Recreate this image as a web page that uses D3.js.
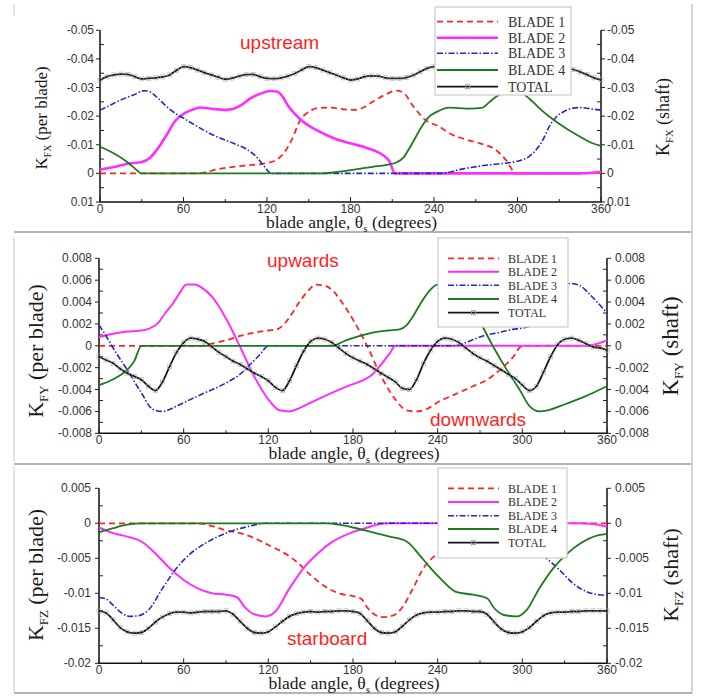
<!DOCTYPE html>
<html><head><meta charset="utf-8">
<script src="https://cdn.jsdelivr.net/npm/d3@7"></script>
<style>body{margin:0;background:#fff}svg{display:block}</style>
</head><body><svg id="fig" width="702" height="698"></svg>
<script>
// ---- shared axis values ----
const angleTicks = [0, 60, 120, 180, 240, 300, 360];
const angleMinor = [30, 90, 150, 210, 270, 330];
const seriesNames = ["BLADE 1", "BLADE 2", "BLADE 3", "BLADE 4", "TOTAL"];
const totalAngles = d3.range(0, 361, 5);

// ---- K_FX (axial force) ----
const fxTicks = [-0.05, -0.04, -0.03, -0.02, -0.01, 0, 0.01];
const fxMinor = [-0.045, -0.035, -0.025, -0.015, -0.005, 0.005];
const fxBlade1 = [[0,0],[70,0],[85,-0.0015],[96,-0.0023],[110,-0.003],[120,-0.0036],[127,-0.0048],[132,-0.007],[138,-0.012],[144,-0.0187],[150,-0.0215],[156,-0.0228],[165,-0.023],[175,-0.0224],[184,-0.0222],[190,-0.0232],[196,-0.025],[205,-0.0275],[213,-0.0289],[218,-0.0282],[225,-0.0235],[234,-0.0186],[244,-0.0163],[251,-0.014],[262,-0.012],[273,-0.0105],[285,-0.008],[292,-0.0045],[299,0],[350,0],[355,-0.0003],[360,0]];
const fxBlade2 = [[0,-0.0013],[10,-0.0022],[20,-0.0034],[30,-0.004],[36,-0.0055],[42,-0.009],[48,-0.0135],[54,-0.0183],[60,-0.0208],[66,-0.0222],[72,-0.023],[80,-0.0226],[90,-0.0222],[96,-0.0226],[102,-0.024],[108,-0.0262],[115,-0.0278],[122,-0.0288],[127,-0.0286],[131,-0.027],[135,-0.0237],[140,-0.0208],[146,-0.018],[156,-0.015],[168,-0.0123],[180,-0.0105],[190,-0.0092],[197,-0.008],[203,-0.0065],[208,-0.0042],[212,0],[345,0],[360,-0.0005]];
const fxBlade3 = [[0,-0.0221],[6,-0.0235],[12,-0.025],[18,-0.0263],[24,-0.0274],[32,-0.0289],[36,-0.0285],[40,-0.027],[48,-0.0233],[54,-0.021],[60,-0.0193],[72,-0.0158],[84,-0.0128],[96,-0.0105],[106,-0.0082],[112,-0.006],[118,-0.0025],[123,0],[245,0],[260,-0.0015],[280,-0.003],[295,-0.0038],[302,-0.0045],[308,-0.0058],[313,-0.008],[318,-0.0115],[323,-0.0165],[328,-0.0198],[334,-0.0218],[340,-0.0228],[346,-0.023],[352,-0.0226],[360,-0.0221]];
const fxBlade4 = [[0,-0.0093],[6,-0.008],[12,-0.0064],[18,-0.0045],[24,-0.0022],[30,0],[160,0],[172,-0.0006],[185,-0.0015],[196,-0.0023],[206,-0.003],[213,-0.0038],[218,-0.0055],[222,-0.0085],[227,-0.0128],[232,-0.017],[236,-0.0196],[242,-0.0215],[251,-0.023],[258,-0.0228],[266,-0.0226],[275,-0.023],[280,-0.025],[286,-0.0272],[292,-0.0285],[299,-0.029],[304,-0.0278],[311,-0.025],[317,-0.0222],[323,-0.0198],[335,-0.0157],[345,-0.0128],[353,-0.0107],[360,-0.0096]];
const fxTotal = [
  -0.0326,-0.0338,-0.0344,-0.0347,-0.0346,-0.0338,-0.0330,-0.0332,-0.0334,-0.0337,-0.0344,-0.0360,-0.0373,-0.0370,-0.0361,-0.0352,-0.0344,-0.0336,
  -0.0329,-0.0333,-0.0340,-0.0345,-0.0346,-0.0338,-0.0332,-0.0331,-0.0334,-0.0340,-0.0349,-0.0362,-0.0373,-0.0370,-0.0361,-0.0352,-0.0343,-0.0334,
  -0.0326,-0.0330,-0.0338,-0.0341,-0.0340,-0.0334,-0.0332,-0.0332,-0.0335,-0.0343,-0.0355,-0.0367,-0.0373,-0.0370,-0.0362,-0.0353,-0.0344,-0.0336,
  -0.0328,-0.0333,-0.0341,-0.0346,-0.0345,-0.0337,-0.0331,-0.0332,-0.0335,-0.0342,-0.0352,-0.0365,-0.0372,-0.0369,-0.0363,-0.0355,-0.0345,-0.0334,
  -0.0327];

// ---- K_FY (vertical force) ----
const fyTicks = [0.008, 0.006, 0.004, 0.002, 0, -0.002, -0.004, -0.006, -0.008];
const fyMinor = [0.007, 0.005, 0.003, 0.001, -0.001, -0.003, -0.005, -0.007];
const fyBlade1 = [[0,0],[72,0],[80,0.0002],[90,0.0005],[100,0.0009],[110,0.0012],[120,0.0014],[126,0.0015],[132,0.0021],[137,0.003],[142,0.004],[148,0.005],[154,0.0056],[160,0.0055],[166,0.005],[172,0.004],[180,0.0024],[190,0],[200,-0.0028],[210,-0.0049],[218,-0.0059],[225,-0.006],[232,-0.0058],[241,-0.0051],[253,-0.0044],[265,-0.0037],[275,-0.0031],[284,-0.0022],[293,-0.0011],[300,0],[360,0]];
const fyBlade2 = [[0,0.0008],[10,0.0011],[20,0.0013],[30,0.0014],[36,0.0016],[42,0.0021],[47,0.003],[52,0.0038],[57,0.0048],[62,0.0056],[68,0.0056],[74,0.0052],[80,0.0045],[90,0.0025],[100,-0.0001],[110,-0.0028],[120,-0.0049],[128,-0.0059],[135,-0.006],[142,-0.0057],[150,-0.0052],[165,-0.0043],[178,-0.0036],[188,-0.0031],[194,-0.0026],[200,-0.0017],[206,-0.0007],[210,0],[345,0],[360,0.0005]];
const fyBlade3 = [[0,0.0019],[5,0.0009],[10,-0.0002],[20,-0.0022],[30,-0.0043],[38,-0.0058],[45,-0.006],[52,-0.0057],[60,-0.0052],[75,-0.0043],[90,-0.0034],[100,-0.0026],[108,-0.0016],[114,-0.0008],[120,0],[252,0],[262,0.0004],[272,0.0009],[283,0.0012],[293,0.0015],[303,0.0017],[310,0.002],[316,0.003],[322,0.0042],[328,0.0052],[334,0.0057],[341,0.0055],[347,0.0048],[353,0.004],[360,0.003]];
const fyBlade4 = [[0,-0.0036],[8,-0.0032],[15,-0.0027],[20,-0.0022],[25,-0.0014],[30,0],[165,0],[175,0.0005],[185,0.0009],[194,0.0012],[205,0.0014],[213,0.0015],[218,0.0019],[223,0.0028],[228,0.0039],[234,0.005],[240,0.0056],[246,0.0056],[252,0.0052],[260,0.0044],[270,0.0022],[279,0],[289,-0.0022],[298,-0.004],[305,-0.0055],[312,-0.006],[318,-0.0059],[331,-0.0053],[345,-0.0046],[355,-0.004],[360,-0.0037]];
const fyTotal = [
  -0.0010,-0.0013,-0.0016,-0.0021,-0.0025,-0.0028,-0.0031,-0.0037,-0.0041,-0.0033,-0.0019,-0.0006,0.0003,0.0007,0.0006,0.0004,-0.0001,-0.0006,
  -0.0010,-0.0014,-0.0017,-0.0021,-0.0025,-0.0028,-0.0032,-0.0038,-0.0041,-0.0032,-0.0018,-0.0005,0.0004,0.0007,0.0006,0.0003,-0.0002,-0.0007,
  -0.0011,-0.0014,-0.0017,-0.0021,-0.0025,-0.0029,-0.0033,-0.0039,-0.0040,-0.0031,-0.0016,-0.0004,0.0004,0.0007,0.0006,0.0003,-0.0002,-0.0007,
  -0.0011,-0.0014,-0.0018,-0.0022,-0.0026,-0.0030,-0.0036,-0.0041,-0.0037,-0.0024,-0.0010,0.0001,0.0006,0.0007,0.0005,0.0002,-0.0001,-0.0002,
  -0.0004];

// ---- K_FZ (lateral force) ----
const fzTicks = [0.005, 0, -0.005, -0.01, -0.015, -0.02];
const fzMinor = [0.0025, -0.0025, -0.0075, -0.0125, -0.0175];
const fzBlade1 = [[0,0],[70,0],[80,-0.0004],[90,-0.001],[100,-0.0014],[110,-0.0021],[120,-0.0031],[130,-0.0041],[140,-0.0055],[150,-0.0074],[160,-0.009],[170,-0.01],[180,-0.0104],[186,-0.0108],[190,-0.012],[195,-0.013],[201,-0.0134],[208,-0.0132],[215,-0.012],[222,-0.0095],[230,-0.0064],[240,-0.0043],[250,-0.0029],[262,-0.0016],[275,-0.0007],[288,-0.0001],[295,0],[350,0],[360,0]];
const fzBlade2 = [[0,-0.0006],[10,-0.0014],[20,-0.0019],[30,-0.0026],[40,-0.0043],[50,-0.0064],[60,-0.0081],[70,-0.0093],[80,-0.01],[90,-0.0102],[98,-0.0106],[103,-0.0119],[110,-0.013],[118,-0.0133],[125,-0.0126],[135,-0.0093],[145,-0.0064],[155,-0.0043],[165,-0.0027],[178,-0.0014],[187,-0.0008],[197,-0.0002],[206,0],[340,0],[350,-0.0001],[360,-0.0005]];
const fzBlade3 = [[0,-0.0106],[5,-0.0108],[10,-0.0117],[16,-0.0128],[22,-0.0133],[28,-0.0132],[35,-0.0124],[45,-0.0093],[55,-0.0064],[65,-0.0043],[75,-0.0029],[90,-0.0014],[105,-0.0005],[118,0],[250,0],[262,-0.0002],[272,-0.0006],[285,-0.0014],[295,-0.0021],[305,-0.0031],[313,-0.0043],[320,-0.0055],[326,-0.0066],[336,-0.0086],[346,-0.0098],[354,-0.0102],[360,-0.0103]];
const fzBlade4 = [[0,-0.0013],[10,-0.0007],[20,-0.0002],[30,0],[162,0],[170,-0.0002],[180,-0.0006],[194,-0.0013],[206,-0.0019],[218,-0.0026],[227,-0.0045],[235,-0.0064],[242,-0.0079],[253,-0.0098],[265,-0.0102],[275,-0.0107],[280,-0.0121],[287,-0.0131],[296,-0.0133],[303,-0.0124],[312,-0.0093],[322,-0.0064],[332,-0.0043],[341,-0.0029],[354,-0.0017],[360,-0.0015]];
const fzTotal = [
  -0.0125,-0.0128,-0.0138,-0.0149,-0.0155,-0.0157,-0.0156,-0.0150,-0.0141,-0.0134,-0.0129,-0.0127,-0.0127,-0.0128,-0.0127,-0.0126,-0.0126,-0.0126,
  -0.0125,-0.0130,-0.0140,-0.0150,-0.0156,-0.0157,-0.0155,-0.0148,-0.0140,-0.0133,-0.0129,-0.0127,-0.0126,-0.0127,-0.0126,-0.0126,-0.0125,-0.0125,
  -0.0126,-0.0129,-0.0139,-0.0150,-0.0156,-0.0157,-0.0155,-0.0147,-0.0138,-0.0131,-0.0128,-0.0127,-0.0127,-0.0126,-0.0126,-0.0125,-0.0125,-0.0126,
  -0.0126,-0.0130,-0.0141,-0.0151,-0.0156,-0.0157,-0.0155,-0.0149,-0.0140,-0.0132,-0.0128,-0.0127,-0.0127,-0.0126,-0.0126,-0.0125,-0.0125,-0.0125,
  -0.0125];

// ---- line styles per series ----
const seriesStyle = [
  { color: "#ff2424", dash: "6,4", width: 1.8 },
  { color: "#ff2eff", dash: null, width: 2 },
  { color: "#2626c8", dash: "6,2,1.5,2", width: 1.6 },
  { color: "#1e7a1e", dash: null, width: 1.8 },
  { color: "#141414", dash: null, width: 1.8 }
];

const svg = d3.select("#fig");
const serif = "'Liberation Serif','Times New Roman',serif";
const sans = "'Liberation Sans',Arial,sans-serif";

// panel separators / frame
const frame = svg.append("g").attr("fill", "none");
frame.append("line").attr("x1", 14).attr("x2", 14).attr("y1", 4).attr("y2", 16).attr("stroke", "#ccc");
[[232], [464], [693]].forEach(([yy]) =>
  frame.append("line").attr("x1", 14).attr("x2", 692).attr("y1", yy).attr("y2", yy).attr("stroke", "#9a9a9a").attr("stroke-width", 1.6));
frame.append("line").attr("x1", 692).attr("x2", 692).attr("y1", 4).attr("y2", 693).attr("stroke", "#c4c4c4").attr("stroke-width", 1.5);
frame.append("line").attr("x1", 14).attr("x2", 14).attr("y1", 237).attr("y2", 462).attr("stroke", "#d0d0d0").attr("stroke-width", 1.2);
frame.append("line").attr("x1", 14).attr("x2", 14).attr("y1", 467).attr("y2", 692).attr("stroke", "#d0d0d0").attr("stroke-width", 1.2);

function yTitle(g, x, y, size, sub, rest) {
  const t = g.append("text").attr("transform", `translate(${x},${y}) rotate(-90)`)
    .attr("text-anchor", "middle").attr("font-family", serif).attr("font-size", size).attr("fill", "#1a1a1a");
  t.append("tspan").text("K");
  t.append("tspan").attr("font-size", size * 0.58).attr("dy", size * 0.22).text(sub);
  t.append("tspan").attr("dy", -size * 0.22).text(" " + rest);
}

function drawPanel(p) {
  const g = svg.append("g");
  const x = d3.scaleLinear().domain([0, 360]).range([p.left, p.right]);
  const y = d3.scaleLinear().domain(p.yDomain).range([p.bottom, p.top]);
  const fmt = v => String(v);

  // axes lines (left, bottom, right)
  const ax = g.append("g").attr("stroke", "#111").attr("stroke-width", 1.5).attr("fill", "none");
  ax.append("path").attr("d", `M${p.left},${p.top}V${p.bottom}H${p.right}V${p.top}`);

  // ticks
  const tk = g.append("g").attr("stroke", "#222").attr("stroke-width", 1);
  p.ticks.forEach(v => {
    tk.append("line").attr("x1", p.left - 4).attr("x2", p.left).attr("y1", y(v)).attr("y2", y(v));
    tk.append("line").attr("x1", p.right).attr("x2", p.right + 4).attr("y1", y(v)).attr("y2", y(v));
  });
  p.minor.forEach(v => {
    tk.append("line").attr("x1", p.left).attr("x2", p.left + 4).attr("y1", y(v)).attr("y2", y(v));
    tk.append("line").attr("x1", p.right - 4).attr("x2", p.right).attr("y1", y(v)).attr("y2", y(v));
  });
  angleTicks.forEach(a => tk.append("line").attr("x1", x(a)).attr("x2", x(a)).attr("y1", p.bottom).attr("y2", p.bottom - 5));
  angleMinor.forEach(a => tk.append("line").attr("x1", x(a)).attr("x2", x(a)).attr("y1", p.bottom).attr("y2", p.bottom - 3));

  // tick labels
  const lab = g.append("g").attr("font-family", sans).attr("font-size", 12).attr("fill", "#333");
  p.ticks.forEach(v => {
    lab.append("text").attr("x", p.left - p.labGap).attr("y", y(v) + 4).attr("text-anchor", "end").text(fmt(v));
    lab.append("text").attr("x", p.right + p.labGapR).attr("y", y(v) + 4).attr("text-anchor", "start").text(fmt(v));
  });
  angleTicks.forEach(a => lab.append("text").attr("x", x(a)).attr("y", p.bottom + 10.5).attr("text-anchor", "middle").text(a));

  // titles
  const xt = g.append("text").attr("x", (p.left + p.right) / 2 + 1).attr("y", p.xTitleY)
    .attr("text-anchor", "middle").attr("font-family", serif).attr("font-size", 17.5).attr("fill", "#1a1a1a");
  xt.append("tspan").text("blade angle, θ");
  xt.append("tspan").attr("font-size", 11).attr("dy", 4).text("s");
  xt.append("tspan").attr("dy", -4).text(" (degrees)");
  yTitle(g, p.lTitle[0], p.lTitle[1], p.lTitle[2], p.sub, "(per blade)");
  yTitle(g, p.rTitle[0], p.rTitle[1], p.rTitle[2], p.sub, "(shaft)");

  // curves
  const line = d3.line().x(d => x(d[0])).y(d => y(d[1])).curve(d3.curveMonotoneX);
  const curves = g.append("g").attr("fill", "none").attr("stroke-linejoin", "round");
  p.blades.forEach((b, i) => {
    const s = seriesStyle[i];
    curves.append("path").attr("d", line(b)).attr("stroke", s.color)
      .attr("stroke-width", i === 1 ? p.b2Width : s.width).attr("stroke-dasharray", s.dash);
  });
  const tot = totalAngles.map((a, i) => [a, p.total[i]]);
  curves.append("path").attr("d", line(tot)).attr("stroke", seriesStyle[4].color).attr("stroke-width", seriesStyle[4].width);
  g.append("g").selectAll("rect").data(tot).join("rect")
    .attr("x", d => x(d[0]) - 2).attr("y", d => y(d[1]) - 2).attr("width", 4).attr("height", 4)
    .attr("fill", "none").attr("stroke", "#a8a8a8").attr("stroke-width", 0.9).attr("opacity", 0.7);

  // annotations
  p.notes.forEach(n => g.append("text").attr("x", n[1]).attr("y", n[2]).attr("font-family", sans)
    .attr("font-size", 19).attr("fill", "#ff1e1e").text(n[0]));

  // legend
  const L = p.legend;
  const lg = g.append("g");
  lg.append("rect").attr("x", L.x0).attr("y", L.y0).attr("width", L.x1 - L.x0).attr("height", L.y1 - L.y0)
    .attr("fill", "#fff").attr("stroke", "#cfcfcf").attr("stroke-width", 1.3);
  seriesNames.forEach((name, i) => {
    const s = seriesStyle[i];
    const yy = L.rows[i];
    lg.append("line").attr("x1", L.lx0).attr("x2", L.lx1).attr("y1", yy).attr("y2", yy)
      .attr("stroke", s.color).attr("stroke-width", i === 1 ? p.b2Width : s.width).attr("stroke-dasharray", s.dash);
    if (i === 4) lg.append("rect").attr("x", (L.lx0 + L.lx1) / 2 - 2).attr("y", yy - 2).attr("width", 4).attr("height", 4)
      .attr("fill", "none").attr("stroke", "#999").attr("stroke-width", 0.9);
    lg.append("text").attr("x", L.tx).attr("y", yy + L.fs * 0.35).attr("font-family", serif)
      .attr("font-size", L.fs).attr("fill", "#333").text(name);
  });
}

drawPanel({
  left: 100, right: 601, top: 30.3, bottom: 202, yDomain: [0.01, -0.05],
  ticks: fxTicks, minor: fxMinor, labGap: 6, labGapR: 6, sub: "FX",
  blades: [fxBlade1, fxBlade2, fxBlade3, fxBlade4], total: fxTotal, b2Width: 2.6,
  xTitleY: 228, lTitle: [47, 118, 17], rTitle: [669, 117, 18],
  notes: [["upstream", 240, 49]],
  legend: { x0: 435, x1: 571, y0: 7, y1: 95, rows: [21.7, 37.7, 53.3, 70, 86.7], lx0: 437, lx1: 498, tx: 508, fs: 14 }
});
drawPanel({
  left: 99, right: 607, top: 258.3, bottom: 433.3, yDomain: [-0.008, 0.008],
  ticks: fyTicks, minor: fyMinor, labGap: 7, labGapR: 8, sub: "FY",
  blades: [fyBlade1, fyBlade2, fyBlade3, fyBlade4], total: fyTotal, b2Width: 2,
  xTitleY: 458.5, lTitle: [43, 351, 22], rTitle: [678, 346, 23],
  notes: [["upwards", 267, 267], ["downwards", 430, 426]],
  legend: { x0: 438, x1: 568, y0: 238, y1: 327, rows: [258.3, 271.7, 285.3, 299, 312.7], lx0: 448, lx1: 499, tx: 508, fs: 12 }
});
drawPanel({
  left: 99, right: 607, top: 488.3, bottom: 663.3, yDomain: [-0.02, 0.005],
  ticks: fzTicks, minor: fzMinor, labGap: 8, labGapR: 8, sub: "FZ",
  blades: [fzBlade1, fzBlade2, fzBlade3, fzBlade4], total: fzTotal, b2Width: 2,
  xTitleY: 688.5, lTitle: [43, 575, 22], rTitle: [678, 575, 22],
  notes: [["starboard", 287, 645]],
  legend: { x0: 438, x1: 567, y0: 468, y1: 558, rows: [488.3, 502, 515.7, 529, 542.7], lx0: 448, lx1: 499, tx: 508, fs: 12 }
});
</script>
</body></html>
